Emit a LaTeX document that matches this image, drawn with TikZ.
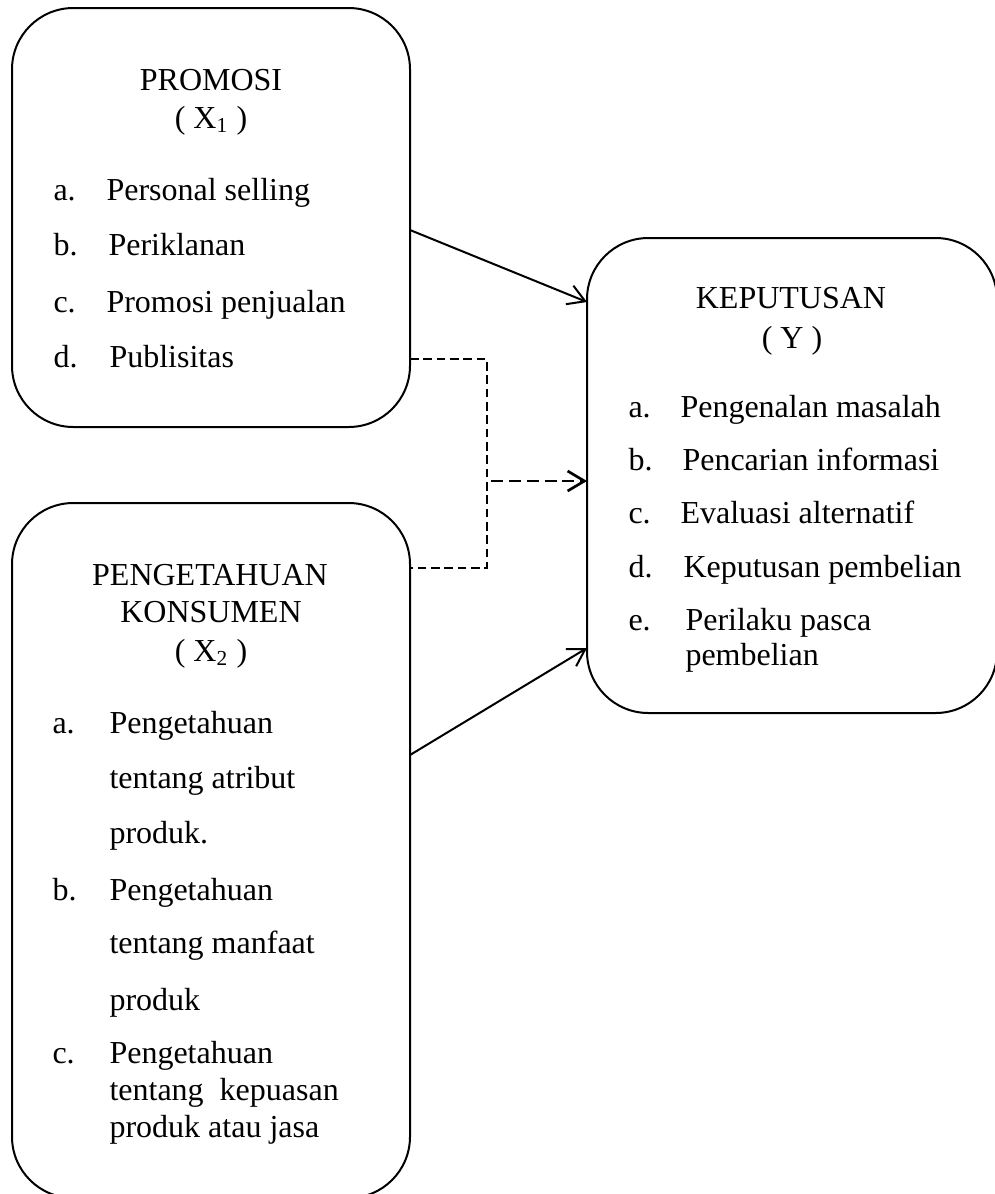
\documentclass[tikz,border=0pt]{standalone}
\usepackage{fontspec}
\setmainfont{Liberation Serif}
\usetikzlibrary{arrows.meta}
\begin{document}
\begin{tikzpicture}[x=0.375pt,y=-0.375pt,
  font=\fontsize{12pt}{14pt}\selectfont,
  box/.style={draw,line width=0.75pt,rounded corners=23pt,inner sep=0pt,outer sep=0pt},
  tc/.style={anchor=base,inner sep=0pt},
  tl/.style={anchor=base west,inner sep=0pt},
  conn/.style={line width=0.75pt,-{Straight Barb[length=6.3pt,width=7.5pt]}},
  thindash/.style={line width=0.6pt,dash pattern=on 3.2pt off 1.8pt},
  thickdash/.style={line width=1pt,dash pattern=on 4.5pt off 2.2pt,-{Straight Barb[length=6.3pt,width=7.5pt]}}]
\useasboundingbox (0,0) rectangle (994,1194);
% boxes
\node[box,minimum width=149.25pt,minimum height=157.125pt] (p1) at (211,217.5) {};
\node[box,minimum width=149.25pt,minimum height=260.625pt] (p2) at (211,850.5) {};
\node[box,minimum width=153.75pt,minimum height=178.125pt] (p3) at (792,475.5) {};
% box 1 text
\node[tc] (t1) at (211,90) {PROMOSI};
\node[tc] (t1x) at (211,128) {( X\textsubscript{1} )};
\node[tl] (l1a) at (53,200) {a.};
\node[tl] (i1a) at (106,200) {Personal selling};
\node[tl] (l1b) at (53,255) {b.};
\node[tl] (i1b) at (108,255) {Periklanan};
\node[tl] (l1c) at (53,312) {c.};
\node[tl] (i1c) at (106,312) {Promosi penjualan};
\node[tl] (l1d) at (53,367) {d.};
\node[tl] (i1d) at (109,367) {Publisitas};
% box 2 text
\node[tc] (t2) at (210,585) {PENGETAHUAN};
\node[tc] (t2b) at (211,622) {KONSUMEN};
\node[tc] (t2x) at (211,661) {( X\textsubscript{2} )};
\node[tl] (l2a) at (52,733) {a.};
\node[tl] (i2a1) at (109,733) {Pengetahuan};
\node[tl] (i2a2) at (109,788) {tentang atribut};
\node[tl] (i2a3) at (109,843) {produk.};
\node[tl] (l2b) at (52,900) {b.};
\node[tl] (i2b1) at (109,900) {Pengetahuan};
\node[tl] (i2b2) at (109,953) {tentang manfaat};
\node[tl] (i2b3) at (109,1010) {produk};
\node[tl] (l2c) at (52,1063) {c.};
\node[tl] (i2c1) at (109,1063) {Pengetahuan};
\node[tl] (i2c2) at (109,1100) {tentang\ \ kepuasan};
\node[tl] (i2c3) at (109,1137) {produk atau jasa};
% box 3 text
\node[tc] (t3) at (791,308) {KEPUTUSAN};
\node[tc] (t3y) at (792,348) {( Y )};
\node[tl] (l3a) at (628,417) {a.};
\node[tl] (i3a) at (680,417) {Pengenalan masalah};
\node[tl] (l3b) at (628,470) {b.};
\node[tl] (i3b) at (682,470) {Pencarian informasi};
\node[tl] (l3c) at (628,523) {c.};
\node[tl] (i3c) at (680,523) {Evaluasi alternatif};
\node[tl] (l3d) at (628,577) {d.};
\node[tl] (i3d) at (683,577) {Keputusan pembelian};
\node[tl] (l3e) at (628,630) {e.};
\node[tl] (i3e1) at (685,630) {Perilaku pasca};
\node[tl] (i3e2) at (685,665) {pembelian};
% connectors
\draw[conn] ([yshift=-4.69pt]p1.east) -- ([yshift=65.06pt]p3.west);
\draw[conn] ([yshift=35.81pt]p2.east) -- ([yshift=-64.69pt]p3.west);
\coordinate (j) at (487,481);
\draw[thindash] ([yshift=-53.06pt]p1.east) -| (j) |- ([yshift=105.94pt]p2.east);
\draw[thickdash] ([xshift=1.5pt]j) -- (p3.west |- j);
\end{tikzpicture}
\end{document}
